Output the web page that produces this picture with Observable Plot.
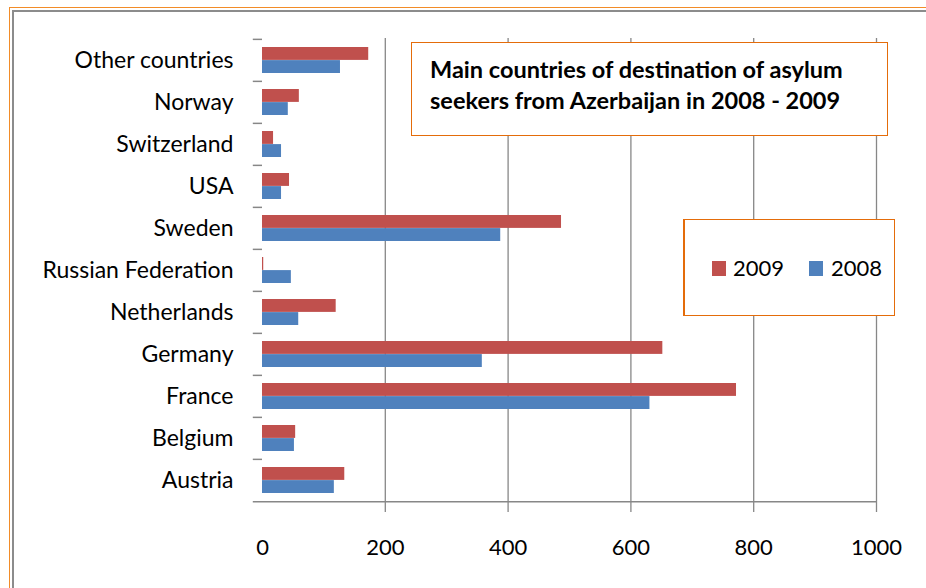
<!DOCTYPE html>
<html><head><meta charset="utf-8">
<script src="https://cdn.jsdelivr.net/npm/d3@7"></script>
<script src="https://cdn.jsdelivr.net/npm/@observablehq/plot@0.6"></script>
<style>
body{margin:0;background:#fff;}
#wrap{position:relative;width:926px;height:588px;overflow:hidden;font-family:Lato,"Open Sans",sans-serif;background:#fff;}
#chart{position:absolute;left:0;top:0;}
.frameO{position:absolute;left:9px;top:7px;right:-5px;bottom:-5px;border-top:1.5px solid #F28C28;border-left:1.5px solid #F28C28;}
.frameG{position:absolute;left:12px;top:9.5px;right:-5px;bottom:-5px;border-top:2px solid #8c8c8c;border-left:2px solid #8c8c8c;}
#title{position:absolute;left:411px;top:42px;width:477px;height:94px;border:1.3px solid #E46C0A;background:#fff;box-sizing:border-box;}
#title div{position:absolute;left:18px;font-weight:bold;font-size:23.5px;line-height:28px;color:#000;white-space:nowrap;}
#legend{position:absolute;left:683px;top:219px;width:212px;height:97px;border:1.3px solid #E46C0A;border-left-width:2px;background:#fff;box-sizing:border-box;}
.sw{position:absolute;width:14px;height:15px;top:41px;}
.lt{position:absolute;top:33px;font-size:22px;color:#000;line-height:30px;}
</style>
</head><body>
<div id="wrap">
  <div class="frameO"></div>
  <div class="frameG"></div>
  <div id="chart"></div>
  <div id="title"><div style="top:12px">Main countries of destination of asylum</div><div style="top:43px">seekers from Azerbaijan in 2008 - 2009</div></div>
  <div id="legend"></div>
</div>
<script>
const countries = ["Other countries","Norway","Switzerland","USA","Sweden","Russian Federation","Netherlands","Germany","France","Belgium","Austria"];
const v2009 = [173, 60, 18, 44, 487, 2, 120, 652, 772, 54, 134];
const v2008 = [127, 42, 31, 31, 388, 47, 59, 358, 631, 52, 117];
const seriesNames = ["2009", "2008"];
const seriesColors = ["#C0504D", "#4F81BD"];
const xTicks = [0, 200, 400, 600, 800, 1000];
const xGrid = [200, 400, 600, 800, 1000];

const W = 926, H = 588, mt = 38, mb = 85, ml = 262, mr = 50;
const step = (H - mt - mb) / countries.length;
const padIn = 0.38;
const bw = step * (1 - padIn);

const rows2009 = countries.map((c, i) => ({country: c, value: v2009[i]}));
const rows2008 = countries.map((c, i) => ({country: c, value: v2008[i]}));

const chart = Plot.plot({
  width: W, height: H,
  marginTop: mt, marginBottom: mb, marginLeft: ml, marginRight: mr,
  style: {fontFamily: "Lato, 'Open Sans', sans-serif", fontSize: "22px", color: "#000", background: "transparent", overflow: "visible"},
  x: {domain: [0, 1000]},
  y: {domain: countries, paddingInner: padIn, paddingOuter: padIn / 2},
  marks: [
    Plot.ruleX(xGrid, {stroke: "#878787", strokeWidth: 1.3, insetBottom: -9}),
    Plot.axisX({ticks: xTicks, tickSize: 0, tickPadding: 36, label: null, tickFormat: d => String(d), fill: "#000", fontSize: 22}),
    Plot.axisY({tickSize: 0, tickPadding: 29, label: null, fill: "#000", fontSize: 23}),
    Plot.ruleY(countries, {y: d => d, dy: -step / 2, x1: -15, x2: 0, stroke: "#878787", strokeWidth: 1.5}),
    Plot.ruleY([countries[countries.length - 1]], {y: d => d, dy: step / 2, x1: -15, x2: 1000, stroke: "#878787", strokeWidth: 1.5}),
    Plot.barX(rows2009, {y: "country", x: "value", fill: seriesColors[0], insetBottom: bw / 2}),
    Plot.barX(rows2008, {y: "country", x: "value", fill: seriesColors[1], insetTop: bw / 2})
  ]
});
document.getElementById("chart").appendChild(chart);

const legend = document.getElementById("legend");
const pos = [{sw: 27, t: 48}, {sw: 124, t: 146}];
seriesNames.forEach((s, i) => {
  const sw = document.createElement("div");
  sw.className = "sw"; sw.style.left = pos[i].sw + "px"; sw.style.background = seriesColors[i];
  const t = document.createElement("div");
  t.className = "lt"; t.style.left = pos[i].t + "px"; t.textContent = s;
  legend.appendChild(sw); legend.appendChild(t);
});
</script>
</body></html>
